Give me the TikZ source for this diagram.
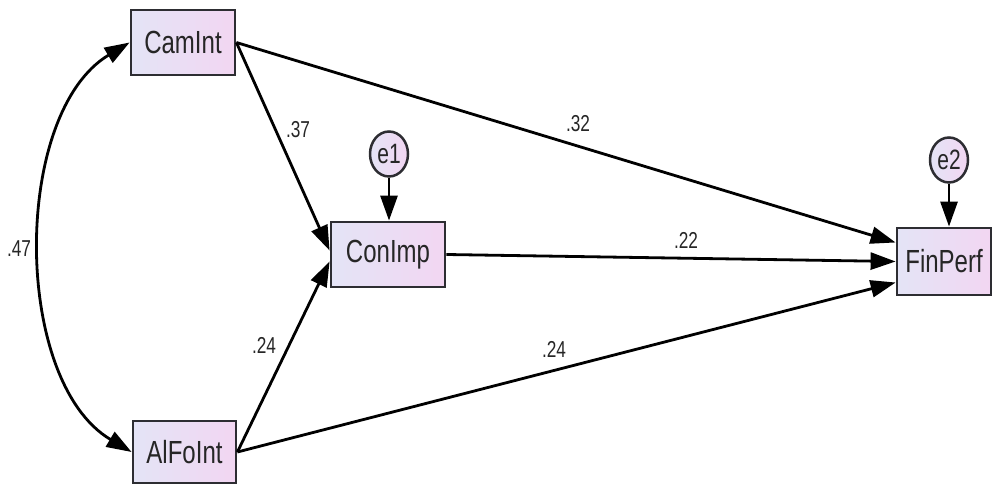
\documentclass[tikz,border=0pt]{standalone}
\usepackage{fontspec}
\setmainfont{Liberation Sans}[FakeStretch=0.75]
\usepackage{tikz}
\usetikzlibrary{shapes.geometric, arrows.meta, positioning, calc}

\definecolor{boxleft}{RGB}{228,228,246}
\definecolor{boxright}{RGB}{242,214,242}
\definecolor{edgegrey}{RGB}{45,45,50}

\begin{document}
\begin{tikzpicture}[
  x=1pt, y=-1pt,
  % Observed variable; size supplied per node as var={<width>}{<height>}
  var/.style 2 args={
    rectangle, draw=edgegrey, line width=2.8pt,
    left color=boxleft, right color=boxright,
    minimum width=#1, minimum height=#2, inner sep=0pt,
    font=\fontsize{32}{34}\selectfont, text=black!85
  },
  err/.style={
    ellipse, draw=edgegrey, line width=2.5pt,
    left color=boxleft, right color=boxright,
    minimum width=38pt, minimum height=45pt, inner sep=0pt,
    font=\fontsize{28}{30}\selectfont, text=black!85
  },
  arr/.style={-{Triangle[length=25pt,width=17pt]}, black, line width=2.8pt},
  dbl/.style={{Triangle[length=25pt,width=17pt]}-{Triangle[length=25pt,width=17pt]}, black, line width=2.8pt},
  coef/.style={font=\fontsize{23}{25}\selectfont, text=black!85},
]
\useasboundingbox (0,0) rectangle (992,486);

%% ── Exogenous variables ───────────────────────────────────────────────────
\node[var={104pt}{65pt}] (cam)  at (183,42.5) {CamInt};
\node[var={103pt}{62pt}] (alfo) at (184.5,452) {AlFoInt};

%% ── Mediator and outcome ──────────────────────────────────────────────────
\node[var={114pt}{65pt}] (con) at (388,254.5) {ConImp};
\node[var={94pt}{67pt}]  (fin) at (944,261.5) {FinPerf};

%% ── Error terms ───────────────────────────────────────────────────────────
\node[err] (e1) at (389,154) {e1};
\node[err] (e2) at (949,160) {e2};

%% ── Paths ─────────────────────────────────────────────────────────────────
\draw[dbl] (cam.west) .. controls (12,113) and (12,381) .. (alfo.west);
\draw[arr] (cam.east)  -- ($(fin.west)+(0,-19)$);
\draw[arr] (cam.east)  -- ($(con.west)+(0,-4)$);
\draw[arr] (alfo.east) -- ($(con.west)+(0,7)$);
\draw[arr] (con.east)  -- (fin.west);
\draw[arr] (alfo.east) -- ($(fin.west)+(0,21)$);
\draw[arr] (e1.south)  -- (e1.south |- con.north);
\draw[arr] (e2.south)  -- (e2.south |- fin.north);

%% ── Coefficients ──────────────────────────────────────────────────────────
\node[coef] (r47)  at (19,249)  {.47};
\node[coef] (b37)  at (298,130) {.37};
\node[coef] (b32)  at (578,124) {.32};
\node[coef] (b22)  at (686,240) {.22};
\node[coef] (b24a) at (264,345) {.24};
\node[coef] (b24b) at (554,349) {.24};

\end{tikzpicture}
\end{document}
